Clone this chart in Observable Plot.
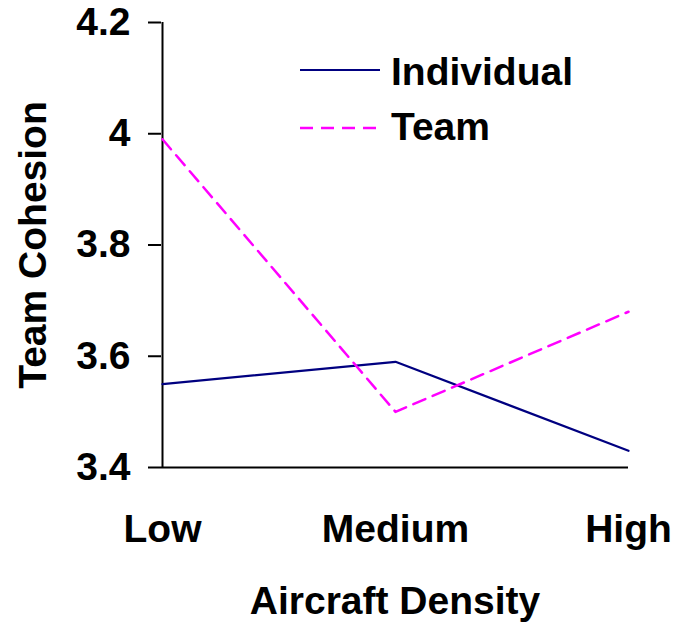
<!DOCTYPE html>
<html>
<head>
<meta charset="utf-8">
<script src="https://cdn.jsdelivr.net/npm/d3@7"></script>
<script src="https://cdn.jsdelivr.net/npm/@observablehq/plot@0.6"></script>
<style>
  html, body { margin: 0; padding: 0; background: #fff; }
  #chart { position: relative; width: 676px; height: 625px; }
  svg { font-family: "Liberation Sans", Arial, sans-serif; }
</style>
</head>
<body>
<div id="chart"></div>
<script>
const categories = ["Low", "Medium", "High"];
const individual = [3.55, 3.59, 3.43];
const team = [3.99, 3.50, 3.68];
const yTicks = [3.4, 3.6, 3.8, 4, 4.2];
const seriesNames = ["Individual", "Team"];
const seriesColors = ["#000080", "#FF00FF"];
const xTitle = "Aircraft Density";
const yTitle = "Team Cohesion";

const data = [
  ...categories.map((c, i) => ({series: "Individual", cat: c, value: individual[i]})),
  ...categories.map((c, i) => ({series: "Team", cat: c, value: team[i]}))
];

const FS = 39;

const plot = Plot.plot({
  width: 676,
  height: 625,
  marginLeft: 161,
  marginRight: 48,
  marginTop: 22,
  marginBottom: 158,
  style: {fontFamily: '"Liberation Sans", Arial, sans-serif', fontSize: FS + "px", fontWeight: "bold", color: "#000", background: "#fff"},
  x: {type: "point", domain: categories, padding: 0},
  y: {domain: [3.4, 4.2]},
  marks: [
    Plot.axisY({ticks: yTicks, tickSize: 13, tickPadding: 18, tickFormat: d => String(d), label: null, strokeWidth: 2, fontSize: FS, fontWeight: "bold"}),
    Plot.axisX({tickSize: 0, tickPadding: 47, label: null, fontSize: FS, fontWeight: "bold"}),
    Plot.ruleX([categories[0]], {stroke: "#000", strokeWidth: 2}),
    Plot.ruleY([yTicks[0]], {stroke: "#000", strokeWidth: 2}),
    Plot.line(data.filter(d => d.series === "Individual"), {x: "cat", y: "value", stroke: seriesColors[0], strokeWidth: 2.2}),
    Plot.line(data.filter(d => d.series === "Team"), {x: "cat", y: "value", stroke: seriesColors[1], strokeWidth: 2.5, strokeDasharray: "13,8"}),
    Plot.text([xTitle], {frameAnchor: "bottom", dy: 146, lineAnchor: "bottom", textAnchor: "middle", text: d => d, fontSize: FS, fontWeight: "bold", fill: "#000"}),
    Plot.text([yTitle], {frameAnchor: "left", dx: -116, lineAnchor: "bottom", textAnchor: "middle", rotate: -90, text: d => d, fontSize: FS, fontWeight: "bold", fill: "#000"})
  ]
});

// Legend
const svg = d3.select(plot);
const lg = svg.append("g").attr("font-family", '"Liberation Sans", Arial, sans-serif').attr("font-weight", "bold").attr("text-anchor", "start").style("font-size", FS + "px");
const legendRows = [70, 128];
const legendBaselines = [85, 140];
seriesNames.forEach((name, i) => {
  const y = legendRows[i];
  lg.append("line").attr("x1", 300).attr("x2", 380).attr("y1", y).attr("y2", y)
    .attr("stroke", seriesColors[i]).attr("stroke-width", i === 0 ? 2 : 2.5)
    .attr("stroke-dasharray", i === 1 ? "13,8" : null);
  lg.append("text").attr("x", 391).attr("y", legendBaselines[i]).attr("text-anchor", "start").attr("fill", "#000").text(name);
});

document.getElementById("chart").appendChild(plot);
</script>
</body>
</html>
